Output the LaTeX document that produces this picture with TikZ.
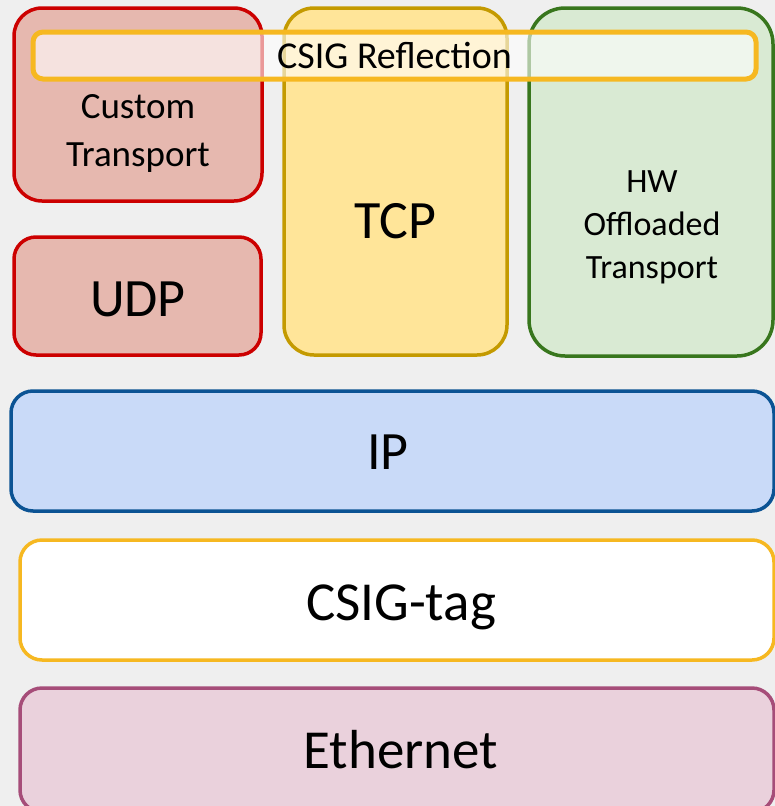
\documentclass[tikz,border=0pt]{standalone}
\usepackage{fontspec}
\setmainfont{Carlito}

\definecolor{bggray}{HTML}{EFEFEF}
\definecolor{redfill}{HTML}{E6B8AF}
\definecolor{redline}{HTML}{CC0000}
\definecolor{yelfill}{HTML}{FFE599}
\definecolor{yelline}{HTML}{C49A00}
\definecolor{grnfill}{HTML}{D9EAD3}
\definecolor{grnline}{HTML}{38761D}
\definecolor{blufill}{HTML}{C9DAF8}
\definecolor{bluline}{HTML}{0B5394}
\definecolor{tagline}{HTML}{F6B821}
\definecolor{ethfill}{HTML}{EAD1DC}
\definecolor{ethline}{HTML}{A64D79}

\begin{document}
\begin{tikzpicture}[x=1pt,y=-1pt,
	layer/.style={draw,rounded corners=#1,line width=3.5pt,inner sep=0pt},
	layer/.default=22pt,
	layertext/.style={anchor=base,align=center,inner sep=0pt}]
\useasboundingbox (0,0) rectangle (775,806);
\fill[bggray] (0,0) rectangle (775,806);

% protocol boxes: name/centre/width/height/fill/border/corner
\foreach \n/\x/\w/\h/\f/\d/\r in{
	custom/{(138,104.5)}/248/193/redfill/redline/28pt,
	udp/{(137.5,296)}/247/118/redfill/redline/22pt,
	tcp/{(395.5,181.5)}/223/347/yelfill/yelline/30pt,
	hw/{(651,182)}/244/348/grnfill/grnline/36pt,
	ip/{(392.5,451)}/763/120/blufill/bluline/22pt,
	tag/{(397,600)}/754/120/white/tagline/22pt,
	eth/{(397,750)}/754/124/ethfill/ethline/22pt
}
{
	\node[layer=\r,fill=\f,draw=\d,minimum width=\w,minimum height=\h] (\n) at \x {};
}
\node[layer=10pt,line width=5pt,draw=tagline,fill=white,fill opacity=0.6,text opacity=1,
	minimum width=723,minimum height=47,font=\fontsize{38}{44}\selectfont]
	(reflect) at (394.5,55.5) {CSIG Reflection};

% layer names (base = last line)
\foreach \n/\x/\s/\l in{
	customtxt/{(138,166)}/{\fontsize{37}{48}}/{Custom\\Transport},
	udptxt/{(138,316)}/{\fontsize{54}{60}}/{UDP},
	tcptxt/{(395,238)}/{\fontsize{54}{60}}/{TCP},
	hwtxt/{(652,278)}/{\fontsize{34}{43}}/{HW\\Offloaded\\Transport},
	iptxt/{(388,469)}/{\fontsize{54}{60}}/{IP},
	tagtxt/{(401,620)}/{\fontsize{55}{60}}/{CSIG-tag},
	ethtxt/{(407,768)}/{\fontsize{55}{60}}/{Ethernet}
}
{
	\node[layertext,font=\s\selectfont] (\n) at \x {\l};
}
\end{tikzpicture}
\end{document}
